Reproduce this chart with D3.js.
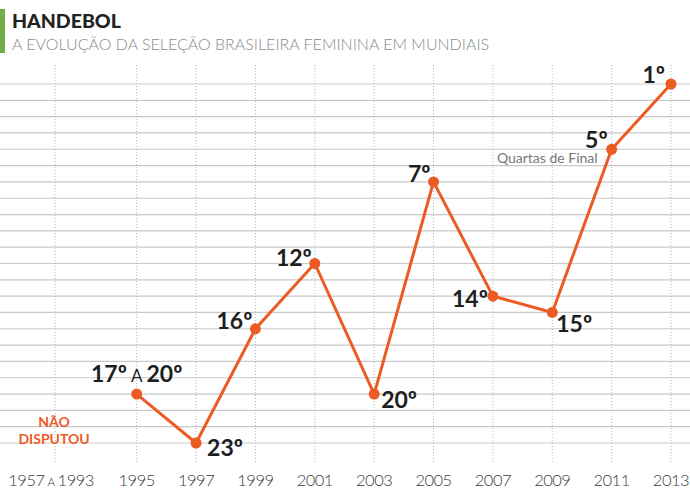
<!DOCTYPE html>
<html>
<head>
<meta charset="utf-8">
<script src="https://cdn.jsdelivr.net/npm/d3@7"></script>
<style>
  html, body { margin: 0; padding: 0; background: #fff; }
  svg { display: block; font-family: Lato, "Open Sans", sans-serif; }
</style>
</head>
<body>
<svg id="chart" width="690" height="498"></svg>
<script>
// ---- data ----
const title = "HANDEBOL";
const subtitle = "A EVOLUÇÃO DA SELEÇÃO BRASILEIRA FEMININA EM MUNDIAIS";
const firstCategory = ["1957", "a", "1993"];
const years = ["1995", "1997", "1999", "2001", "2003", "2005", "2007", "2009", "2011", "2013"];
const ranks = [20, 23, 16, 12, 20, 7, 14, 15, 5, 1];
const rankLabels = [["17º", "a", "20º"], ["23º"], ["16º"], ["12º"], ["20º"], ["7º"], ["14º"], ["15º"], ["5º"], ["1º"]];
const rankDomain = [1, 23];
const notPlayed = ["NÃO", "DISPUTOU"];
const noteText = "Quartas de Final";
const noteYear = "2011";

// ---- layout (label placement relative to the point) ----
const labelPlace = [
  { anchor: "middle", dx: 0, dy: -12 },
  { anchor: "start", dx: 11, dy: 13 },
  { anchor: "end", dx: -3, dy: 0 },
  { anchor: "end", dx: -3, dy: 2 },
  { anchor: "start", dx: 7, dy: 14 },
  { anchor: "end", dx: -3, dy: 0 },
  { anchor: "end", dx: -5, dy: 11 },
  { anchor: "start", dx: 4, dy: 20 },
  { anchor: "end", dx: -4, dy: -1 },
  { anchor: "end", dx: -6, dy: -1 }
];

const orange = "#ec5b24";
const svg = d3.select("#chart");

const x = d3.scalePoint().domain(years).range([136.7, 671]);
const xFirst = x(years[0]) - 1.375 * x.step();
const y = d3.scaleLinear().domain(rankDomain).range([84, 443]);

// title
svg.append("rect").attr("x", 0).attr("y", 9).attr("width", 5).attr("height", 44).attr("fill", "#72ad47");
svg.append("text").attr("x", 12).attr("y", 28).attr("font-size", 19.5).attr("font-weight", 900)
  .attr("fill", "#222").text(title);
svg.append("text").attr("x", 12).attr("y", 50).attr("font-size", 16).attr("font-weight", 300)
  .attr("fill", "#8a8a8a").text(subtitle);

// horizontal grid
const rankTicks = d3.range(rankDomain[0], rankDomain[1] + 1);
svg.append("g").selectAll("line").data(rankTicks).join("line")
  .attr("x1", 0).attr("x2", 690)
  .attr("y1", d => y(d)).attr("y2", d => y(d))
  .attr("stroke", (d, i) => (i === 0 || i === rankTicks.length - 1) ? "#e6e6e6" : "#c9c9c9")
  .attr("stroke-width", (d, i) => (i === 0 || i === rankTicks.length - 1) ? 2 : 1.2);

// vertical dotted lines
const vx = [xFirst].concat(years.map(d => x(d)));
svg.append("g").selectAll("line").data(vx).join("line")
  .attr("x1", d => d).attr("x2", d => d)
  .attr("y1", 65).attr("y2", 462)
  .attr("stroke", "#b5b5b5").attr("stroke-width", 1).attr("stroke-dasharray", "1,2");

// x axis labels
const axisY = 486;
const axisFont = 16.5;
const fl = svg.append("text").attr("x", xFirst - 4).attr("y", axisY).attr("text-anchor", "middle")
  .attr("font-size", axisFont).attr("font-weight", 300).attr("fill", "#3a3a3a").attr("letter-spacing", -0.5);
fl.append("tspan").text(firstCategory[0]);
fl.append("tspan").attr("font-size", 11.5).attr("dx", 3).text(firstCategory[1].toUpperCase());
fl.append("tspan").attr("dx", 3).text(firstCategory[2]);
svg.append("g").selectAll("text").data(years).join("text")
  .attr("x", d => x(d)).attr("y", axisY).attr("text-anchor", "middle")
  .attr("font-size", axisFont).attr("font-weight", 300).attr("fill", "#3a3a3a").attr("letter-spacing", -0.5)
  .text(d => d);

// NÃO DISPUTOU
svg.append("g").selectAll("text").data(notPlayed).join("text")
  .attr("x", xFirst - 1).attr("y", (d, i) => 427 + i * 17).attr("text-anchor", "middle")
  .attr("font-size", 14).attr("font-weight", 700).attr("fill", orange).text(d => d);

// line
const pts = years.map((yr, i) => ({ yr, r: ranks[i], lab: rankLabels[i], p: labelPlace[i] }));
svg.append("path").datum(pts)
  .attr("d", d3.line().x(d => x(d.yr)).y(d => y(d.r)))
  .attr("fill", "none").attr("stroke", orange).attr("stroke-width", 3).attr("stroke-linejoin", "round");
svg.append("g").selectAll("circle").data(pts).join("circle")
  .attr("cx", d => x(d.yr)).attr("cy", d => y(d.r)).attr("r", 5.5).attr("fill", orange);

// labels
const lab = svg.append("g").selectAll("text").data(pts).join("text")
  .attr("x", d => x(d.yr) + d.p.dx).attr("y", d => y(d.r) + d.p.dy)
  .attr("text-anchor", d => d.p.anchor)
  .attr("font-size", 23).attr("font-weight", 700).attr("fill", "#1e1e1e");
lab.each(function (d) {
  const t = d3.select(this);
  d.lab.forEach((s, i) => {
    if (i === 1) {
      t.append("tspan").attr("font-size", 17).attr("font-weight", 400).attr("dx", 4).text(s.toUpperCase());
    } else {
      t.append("tspan").attr("dx", i === 0 ? 0 : 4).text(s);
    }
  });
});

// note
const ni = years.indexOf(noteYear);
svg.append("text").attr("x", x(noteYear) - 14).attr("y", y(ranks[ni]) + 14)
  .attr("text-anchor", "end").attr("font-size", 14).attr("fill", "#777").text(noteText);
</script>
</body>
</html>
